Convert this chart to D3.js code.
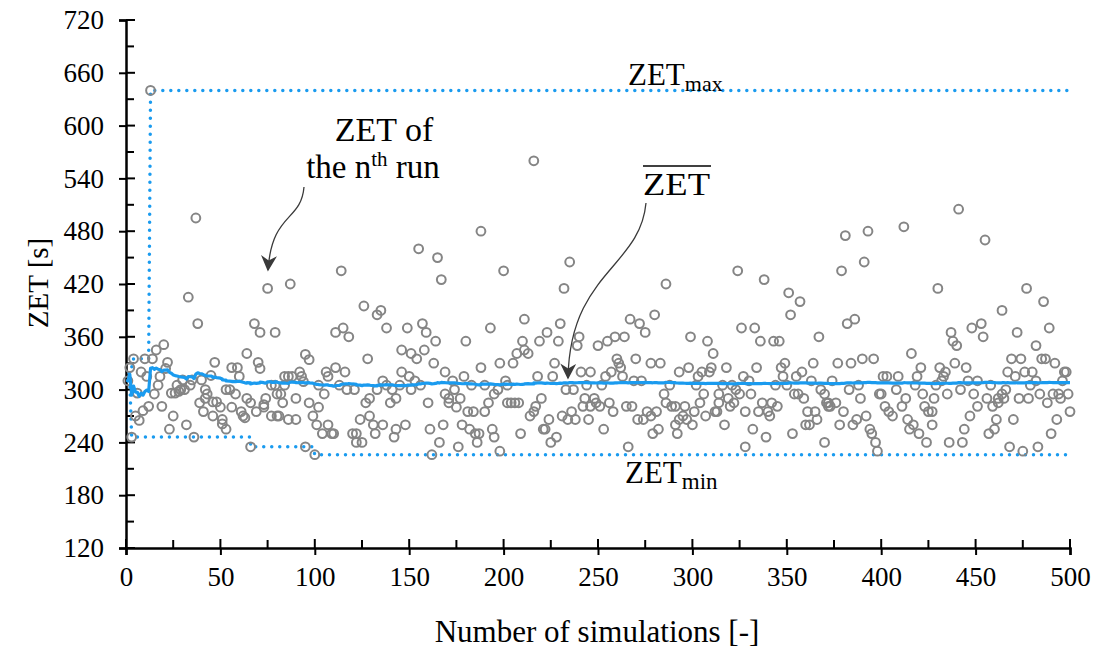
<!DOCTYPE html>
<html><head><meta charset="utf-8">
<script src="https://cdn.jsdelivr.net/npm/d3@7"></script>
<style>
body{margin:0;background:#fff;}
svg{display:block;font-family:"Liberation Serif","Times New Roman",serif;}
</style></head>
<body><svg id="chart" width="1101" height="651"></svg>
<script>
// ---- data (run number, ZET of that run in s) ----
const runs = [
1,2,3,4,5,6,7,8,9,10,11,12,13,14,15,16,17,18,19,20,21,22,23,24,25,26,27,28,29,30,31,32,33,34,35,36,37,38,39,40,
41,42,42,43,45,46,46,47,48,50,51,51,53,53,55,56,56,58,59,60,61,62,63,64,64,66,66,68,69,70,71,71,73,73,74,75,77,77,79,79,80,80,
81,82,83,84,84,86,86,87,88,90,90,92,93,94,95,95,97,97,99,100,101,102,102,104,105,106,107,107,109,110,111,111,113,114,115,116,117,118,120,
121,122,122,124,125,126,127,128,129,129,131,132,133,133,135,136,136,138,138,140,141,142,143,143,145,146,146,148,149,150,151,151,153,154,155,156,157,158,159,160,161,162,
163,164,165,166,167,168,169,169,171,171,173,174,175,176,177,178,179,180,181,182,183,184,185,186,187,188,188,190,190,192,193,194,195,195,197,198,198,200,201,202,202,204,
205,206,207,208,209,210,211,211,213,214,216,216,217,218,219,220,221,222,223,224,225,226,227,228,229,230,231,232,233,234,235,236,237,238,239,240,241,242,243,244,245,
246,246,248,249,250,251,252,253,254,255,256,257,258,259,260,261,262,263,264,265,266,267,268,269,270,271,272,273,274,275,276,278,278,279,280,281,282,283,285,286,
286,288,289,291,291,292,293,293,295,296,297,298,299,300,301,302,303,304,305,306,307,308,309,310,311,312,313,314,314,316,317,318,319,320,321,322,323,324,325,326,327,328,
328,330,331,332,333,334,335,336,337,338,339,340,341,342,343,344,345,346,347,348,349,350,351,352,353,354,355,356,357,358,359,360,361,362,363,364,365,366,367,368,
370,370,371,372,372,373,374,376,377,378,379,380,381,382,383,384,385,386,387,388,389,390,391,392,393,394,395,396,397,398,399,400,401,402,403,404,406,408,409,
411,412,413,414,415,416,417,418,419,420,421,422,423,424,425,427,427,428,429,430,431,432,433,434,435,436,437,438,439,440,441,442,443,444,445,446,447,448,449,451,451,
453,454,455,456,457,458,459,460,461,462,462,464,464,465,466,467,468,469,470,471,472,473,474,475,476,477,478,479,480,482,482,483,484,485,486,487,488,489,490,491,492,493,494,495,496,497,498,499,500
];
const zet = [
310,325,246,335,270,296,265,320,276,335,315,281,640,335,295,345,305,315,281,351,324,331,255,296,270,296,305,298,300,311,300,260,405,305,311,246,495,375,285,311,
275,290,300,295,316,270,286,331,286,280,266,261,300,255,300,280,325,295,325,315,275,270,268,290,341,285,235,375,275,331,324,365,280,283,290,415,305,270,305,365,270,295,
270,295,285,315,305,266,315,420,315,290,266,320,315,309,235,340,334,285,270,226,260,305,280,250,295,320,315,260,250,250,325,365,305,435,370,320,300,360,250,
300,250,240,266,240,395,285,335,270,290,260,250,300,385,390,260,310,370,305,285,300,246,255,290,305,320,345,260,370,315,300,341,310,335,460,305,375,345,365,285,255,226,
330,355,450,240,425,260,320,295,290,285,310,300,280,235,290,260,315,355,275,255,305,275,250,240,250,325,480,275,305,285,370,255,246,295,300,230,330,435,310,305,285,285,
330,285,341,285,250,355,345,380,341,270,275,560,281,315,355,290,255,255,365,266,240,315,330,246,355,375,270,415,300,266,445,275,300,266,350,360,320,281,290,305,266,
320,281,290,285,350,281,305,255,315,355,285,320,275,360,335,330,325,315,360,281,235,380,281,310,335,266,375,310,266,365,275,270,330,250,385,275,255,330,295,420,
285,305,281,281,260,250,266,320,270,281,266,325,360,260,275,305,315,285,320,295,270,355,320,325,341,275,275,295,285,305,260,325,290,281,305,285,300,435,295,370,315,235,
275,310,295,255,370,325,275,355,285,425,246,275,270,285,355,305,281,355,325,315,330,305,410,385,250,295,315,295,400,320,290,260,275,260,310,330,275,266,360,300,
240,295,285,281,285,281,310,285,330,260,435,275,475,375,300,330,260,380,266,305,290,335,445,270,480,255,250,335,240,230,295,295,315,281,315,275,270,300,315,
281,485,290,266,255,341,260,305,315,250,325,295,281,240,275,275,260,290,305,415,325,310,315,320,295,240,365,355,330,350,505,300,240,255,325,310,270,370,295,310,281,
375,360,470,290,250,305,281,255,266,290,285,295,390,290,300,320,235,335,266,315,365,290,335,230,320,415,290,305,320,310,350,235,295,335,400,335,285,370,250,295,330,266,295,290,310,320,320,295,275
];
const xTicks = [0,50,100,150,200,250,300,350,400,450,500];
const yTicks = [120,180,240,300,360,420,480,540,600,660,720];

// ---- derived running statistics ----
const pts = runs.map((r,i)=>({run:r, v:zet[i]})).sort((a,b)=>a.run-b.run);
let s=0, mn=Infinity, mx=-Infinity;
const stats = pts.map((p,i)=>{ s+=p.v; mn=Math.min(mn,p.v); mx=Math.max(mx,p.v); return {run:p.run, mean:s/(i+1), min:mn, max:mx}; });

const svg = d3.select("#chart");
const L=126, R=1070, T=20, B=548;
const x = d3.scaleLinear().domain([0,500]).range([L,R]);
const y = d3.scaleLinear().domain([120,720]).range([B,T]);
const blue = "#1a9bef", grey = "#858585";
const FONT = "Liberation Serif";

// axes
const yAxis = d3.axisLeft(y).tickValues(yTicks).tickSize(7).tickPadding(15).tickFormat(d3.format("d"));
const gy = svg.append("g").attr("transform",`translate(${L},0)`).call(yAxis);
const xAxis = d3.axisBottom(x).tickValues(xTicks).tickSize(7).tickPadding(12);
const gx = svg.append("g").attr("transform",`translate(0,${B})`).call(xAxis);
[gx,gy].forEach(g=>{
  g.attr("font-family",FONT);
  g.select(".domain").attr("stroke","#000").attr("stroke-width",2.5);
  g.selectAll(".tick line").attr("stroke","#000").attr("stroke-width",2);
  g.selectAll(".tick text").attr("font-size",27).attr("fill","#000").attr("font-family",FONT);
});
// inner parts of major ticks + minor ticks
const yMinor = d3.range(150,720,60);
svg.append("g").selectAll("line").data(yTicks).join("line")
  .attr("x1",L).attr("x2",L+9).attr("y1",d=>y(d)).attr("y2",d=>y(d)).attr("stroke","#000").attr("stroke-width",2);
svg.append("g").selectAll("line").data(yMinor).join("line")
  .attr("x1",L).attr("x2",L+8).attr("y1",d=>y(d)).attr("y2",d=>y(d)).attr("stroke","#000").attr("stroke-width",2);
const xMinor = d3.range(25,500,50);
svg.append("g").selectAll("line").data(xTicks).join("line")
  .attr("x1",d=>x(d)).attr("x2",d=>x(d)).attr("y1",B).attr("y2",B-9).attr("stroke","#000").attr("stroke-width",2);
svg.append("g").selectAll("line").data(xMinor).join("line")
  .attr("x1",d=>x(d)).attr("x2",d=>x(d)).attr("y1",B).attr("y2",B-8).attr("stroke","#000").attr("stroke-width",2);

// axis titles
svg.append("text").attr("x",597).attr("y",642).attr("text-anchor","middle").attr("font-size",31).attr("font-family",FONT).text("Number of simulations [-]");
svg.append("text").attr("transform",`translate(48,283) rotate(-90)`).attr("text-anchor","middle").attr("font-size",29).attr("font-family",FONT).text("ZET [s]");

// min / max dotted lines
const dotted = (key)=> d3.line().x(d=>x(d.run)).y(d=>y(d[key]));
["min","max"].forEach(k=>{
  svg.append("path").datum(stats).attr("d",dotted(k)).attr("fill","none").attr("stroke",blue)
    .attr("stroke-width",3.5).attr("stroke-linecap","round").attr("stroke-dasharray","0 8");
});

// scatter
svg.append("g").selectAll("circle").data(pts).join("circle")
  .attr("cx",d=>x(d.run)).attr("cy",d=>y(d.v)).attr("r",4.4)
  .attr("fill","none").attr("stroke",grey).attr("stroke-width",2);

// running mean
svg.append("path").datum(stats).attr("d",d3.line().x(d=>x(d.run)).y(d=>y(d.mean)))
  .attr("fill","none").attr("stroke",blue).attr("stroke-width",3.2).attr("stroke-linejoin","round");

// annotations
const ann = svg.append("g").attr("font-size",31).attr("fill","#000").attr("font-family",FONT);
ann.append("text").attr("x",384).attr("y",141).attr("text-anchor","middle").attr("font-size",34).text("ZET of");
const t2 = ann.append("text").attr("x",373).attr("y",178).attr("text-anchor","middle").attr("font-size",33);
t2.append("tspan").text("the n");
t2.append("tspan").attr("dy",-12).attr("font-size",21).text("th");
t2.append("tspan").attr("dy",12).text(" run");
const tmax = ann.append("text").attr("x",628).attr("y",85);
tmax.append("tspan").text("ZET");
tmax.append("tspan").attr("dy",6).attr("font-size",22).text("max");
const tmin = ann.append("text").attr("x",625).attr("y",483);
tmin.append("tspan").text("ZET");
tmin.append("tspan").attr("dy",6).attr("font-size",23).text("min");
ann.append("text").attr("x",643).attr("y",195).attr("textLength",67).attr("lengthAdjust","spacingAndGlyphs").text("ZET");
ann.append("line").attr("x1",643).attr("x2",711).attr("y1",166).attr("y2",166).attr("stroke","#000").attr("stroke-width",1.5);

const defs = svg.append("defs");
defs.append("marker").attr("id","ah").attr("viewBox","0 0 10 10").attr("refX",9).attr("refY",5)
  .attr("markerWidth",16).attr("markerHeight",16).attr("orient","auto").attr("markerUnits","userSpaceOnUse")
  .append("path").attr("d","M0,0 L10,5 L0,10 L3,5 Z").attr("fill","#3a3a3a");
svg.append("path").attr("d","M304,187 C301,222 272,212 268,270").attr("fill","none").attr("stroke","#3a3a3a").attr("stroke-width",1.3).attr("marker-end","url(#ah)");
svg.append("path").attr("d","M646,203 C640,268 570,272 568,378").attr("fill","none").attr("stroke","#3a3a3a").attr("stroke-width",1.3).attr("marker-end","url(#ah)");
</script></body></html>
